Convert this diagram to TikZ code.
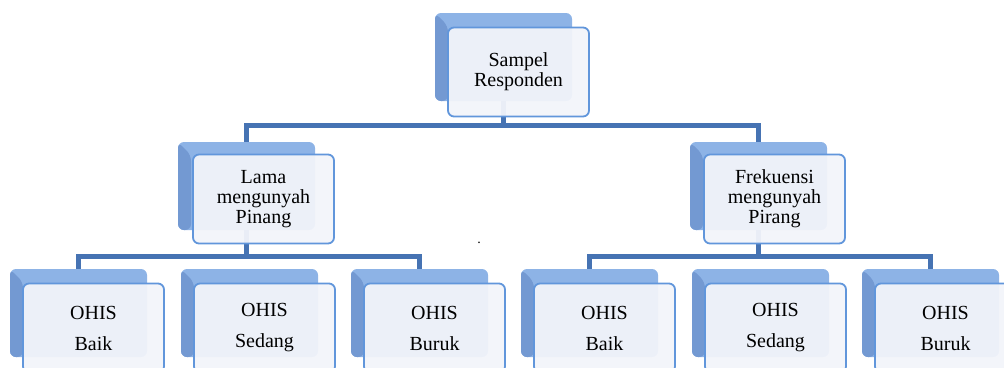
\documentclass[tikz,border=0pt]{standalone}
\usepackage{fontspec}
\setmainfont{Liberation Serif}
\usetikzlibrary{backgrounds}
\definecolor{connblue}{HTML}{4673B3}
\definecolor{backblue}{HTML}{8DB3E6}
\definecolor{backdark}{HTML}{7399D2}
\definecolor{frontline}{HTML}{6196DB}
\definecolor{frontfill}{HTML}{F2F4FA}
\tikzset{
  backbox/.style={minimum width=137pt, minimum height=88pt, inner sep=0pt,
    rounded corners=6pt, fill=backblue,
    path picture={\fill[backdark] (path picture bounding box.north west) -- ++(13,13)
      -- ([xshift=13pt]path picture bounding box.south west)
      -- (path picture bounding box.south west) -- cycle;}},
  frontbox/.style={minimum width=141pt, minimum height=89pt, inner sep=2pt,
    rounded corners=6pt, draw=frontline, line width=1.8pt, fill=frontfill,
    fill opacity=0.95, text opacity=1, align=center,
    font=\fontsize{20}{20}\selectfont},
  ohis/.style={font=\fontsize{20}{31}\selectfont},
  conn/.style={draw=connblue, line width=5pt}
}
\begin{document}
\begin{tikzpicture}[x=1pt,y=-1pt]
\useasboundingbox (0,0) rectangle (1004,367);
\clip (0,0) rectangle (1004,367);
% top
\node[backbox] (sampel) at (503.5,57) {};
\node[frontbox] (sampel-t) at (518.5,72) {Sampel\\Responden};
% second row
\node[backbox] (lama) at (246.5,186) {};
\node[frontbox] (lama-t) at (263.5,199) {Lama\\mengunyah\\Pinang};
\node[backbox] (frek) at (758.5,186) {};
\node[frontbox] (frek-t) at (774.5,199) {Frekuensi\\mengunyah\\Pirang};
% third row
\foreach \i/\x/\nilai in {1/78.5/Baik,2/249.5/Sedang,3/419.5/Buruk,
                          4/589.5/Baik,5/760.5/Sedang,6/930.5/Buruk} {
  \node[backbox] (o\i) at (\x,313) {};
  \node[frontbox,ohis] (o\i-t) at ({\x+15},328) {OHIS\\\nilai};
}
\node[font=\fontsize{14}{14}\selectfont,inner sep=0pt] (titik) at (479,243) {.};
\coordinate (bus1) at (0,125.5);
\coordinate (bus2) at (0,256);
\begin{scope}[on background layer]
\draw[conn] (sampel.center) -- (sampel.center |- bus1);
\draw[conn] (lama.center) |- (frek.center |- bus1) -- (frek.center);
\draw[conn] (lama.center) -- (lama.center |- bus2);
\draw[conn] (frek.center) -- (frek.center |- bus2);
\draw[conn] (o1.center) |- (o3.center |- bus2) -- (o3.center);
\draw[conn] (o4.center) |- (o6.center |- bus2) -- (o6.center);
\end{scope}
\end{tikzpicture}
\end{document}
